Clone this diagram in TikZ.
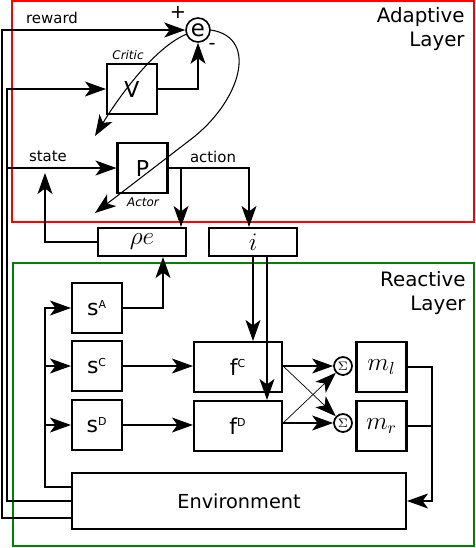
\documentclass[tikz,border=0pt]{standalone}
\usepackage{fontspec}
\setmainfont{DejaVu Sans}
\usetikzlibrary{arrows.meta}

\begin{document}
\begin{tikzpicture}[
        box/.style={draw, line width=1.2pt, minimum width=1cm, minimum height=1cm, inner sep=0pt, font=\fontsize{12.5}{14}\selectfont},
        widebox/.style={box, minimum width=1.76cm, minimum height=0.56cm},
        mathbox/.style={font=\fontsize{14}{16}\selectfont},
        sumnode/.style={draw, circle, line width=1pt, minimum size=0.36cm, inner sep=0pt, font=\fontsize{7}{8}\selectfont},
        lbl/.style={font=\fontsize{8.5}{10}\selectfont, inner sep=0pt},
        role/.style={font=\fontsize{6.8}{8}\selectfont\itshape, inner sep=0pt},
        layername/.style={anchor=north east, align=right, inner sep=0pt, font=\fontsize{11.3}{13.6}\selectfont},
        tip/.style={-{Stealth[length=0.42cm, width=0.3cm, inset=0.11cm]}},
        wire/.style={line width=0.6pt}
    ]
    \useasboundingbox (0,0) rectangle (9.52,-10.96);

    % layers
    \draw [red, line width=0.7pt] (0.24,-0.02) rectangle (9.48,-4.44);
    \draw [green!50!black, line width=0.7pt] (0.26,-5.26) rectangle (9.48,-10.92);
    \node [layername] (adlbl) at (9.30,-0.14) {Adaptive\\Layer};
    \node [layername] (relbl) at (9.32,-5.42) {Reactive\\Layer};

    \node [circle, draw, line width=0.9pt, minimum size=0.48cm, inner sep=0pt, font=\fontsize{13}{14}\selectfont] (e) at (3.96,-0.60) {e};
    \node [box] (V) at (2.64,-1.78) {V};
    \node [box] (P) at (2.85,-3.36) {P};
    \node [widebox, mathbox] (pe) at (2.84,-4.84) {$\rho e$};
    \node [widebox, mathbox] (i) at (5.06,-4.84) {$i$};

    \node [box] (sA) at (1.94,-6.16) {s$^{\scriptscriptstyle\mathrm{A}}$};
    \node [box] (sC) at (1.94,-7.32) {s$^{\scriptscriptstyle\mathrm{C}}$};
    \node [box] (sD) at (1.94,-8.50) {s$^{\scriptscriptstyle\mathrm{D}}$};
    \node [box, minimum width=1.76cm] (fC) at (4.76,-7.34) {f$^{\scriptscriptstyle\mathrm{C}}$};
    \node [box, minimum width=1.76cm] (fD) at (4.76,-8.52) {f$^{\scriptscriptstyle\mathrm{D}}$};
    \node [sumnode] (sl) at (6.86,-7.32) {$\Sigma$};
    \node [sumnode] (sr) at (6.86,-8.46) {$\Sigma$};
    \node [box, mathbox] (ml) at (7.63,-7.34) {$m_l$};
    \node [box, mathbox] (mr) at (7.63,-8.52) {$m_r$};
    \node [box, minimum width=6.68cm, minimum height=1.12cm, font=\fontsize{11}{13}\selectfont] (env) at (4.78,-10.02) {Environment};

    \node [lbl] (rw) at (1.04,-0.36) {reward};
    \node [lbl] (st) at (0.96,-3.12) {state};
    \node [lbl] (ac) at (4.26,-3.14) {action};
    \node [role] (crit) at (2.56,-1.10) {Critic};
    \node [role] (actr) at (2.86,-4.04) {Actor};
    \node [font=\fontsize{11}{12}\selectfont, inner sep=0pt] (plus) at (3.56,-0.24) {+};
    \node [font=\fontsize{11}{12}\selectfont, inner sep=0pt] (minus) at (4.24,-0.92) {-};

    \coordinate (busA) at (0.04,0);
    \coordinate (busB) at (0.14,0);
    \coordinate (busC) at (0.90,0);
    \coordinate (stup) at (0.90,-3.46);
    \coordinate (mout) at (8.64,0);

    \draw [wire,tip] ([yshift=-0.34cm]env.west) -| (busA |- e) -- (e);
    \draw [wire,tip] (env.west) -| (busB |- V) -- (V);
    \draw [wire,tip] (busB |- P) -- (P);
    \draw [wire,tip] ([yshift=0.28cm]env.west) -| (busC |- sA) -- (sA);
    \draw [wire,tip] (busC |- sC) -- (sC);
    \draw [wire,tip] (busC |- sD) -- (sD);
    \draw [wire,tip] (pe.west) -| (stup);

    \draw [wire,tip] (V.east) -| (e.south);
    \draw [wire,tip] (e.200) .. controls (3.1,-0.95) and (2.4,-1.9) .. (1.90,-2.72);
    \draw [wire,tip] (e.east) .. controls (5.2,-0.75) and (4.8,-2.05) .. (3.8,-2.8) -- (1.90,-4.26);

    \draw [wire,tip] (P.east) -| ([xshift=-0.08cm]i.north);
    \draw [wire,tip] ([xshift=0.78cm]pe.north |- P.east) -- ([xshift=0.78cm]pe.north);
    \draw [wire,tip] (sA.east) -| ([xshift=0.42cm]pe.south);
    \draw [wire,tip] (i.south) -- (i.south |- fC.north);
    \draw [wire,tip] ([xshift=0.28cm]i.south) -- ([xshift=0.28cm]i.south |- fD.north);

    \draw [wire,tip] (sC.east) -- (sC.east -| fC.west);
    \draw [wire,tip] (sD.east) -- (sD.east -| fD.west);
    \draw [wire,tip] (fC.east |- sl) -- (sl);
    \draw [wire,tip] (fD.east |- sr) -- (sr);
    \draw [line width=0.4pt,tip] (fC.east |- sl) -- (sr);
    \draw [line width=0.4pt,tip] (fD.east |- sr) -- (sl);

    \draw [wire,tip] (ml.east) -| (mout |- env) -- (env);
    \draw [wire] (mr.east) -- (mr.east -| mout);
\end{tikzpicture}
\end{document}
